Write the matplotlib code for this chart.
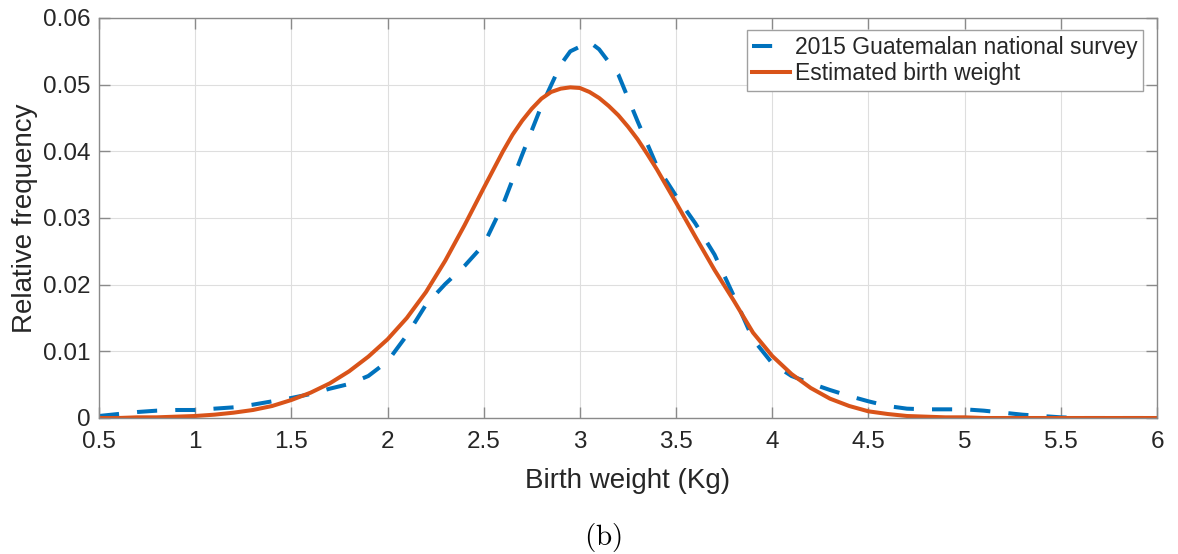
import matplotlib
matplotlib.use("Agg")
import matplotlib.pyplot as plt
import numpy as np

# Survey curve (dashed)
survey_x = [0.5, 0.6, 0.7, 0.8, 0.9, 1.0, 1.1, 1.2, 1.3, 1.4, 1.5, 1.6, 1.7, 1.8, 1.9,
            2.0, 2.1, 2.2, 2.3, 2.4, 2.5, 2.6, 2.7, 2.8, 2.9, 2.95, 3.05, 3.1, 3.2, 3.3,
            3.4, 3.5, 3.6, 3.7, 3.8, 3.9, 4.0, 4.1, 4.2, 4.3, 4.4, 4.5, 4.6, 4.7, 4.8,
            4.9, 5.0, 5.1, 5.2, 5.3, 5.4, 5.5, 5.6, 5.7, 5.8, 5.9, 6.0]
survey_y = [0.0003, 0.0006, 0.0009, 0.0011, 0.0012, 0.0012, 0.0014, 0.0016, 0.0020, 0.0025,
            0.0030, 0.0036, 0.0044, 0.0051, 0.0063, 0.0085, 0.0124, 0.0170, 0.0201, 0.0228,
            0.0260, 0.0320, 0.0395, 0.0468, 0.0530, 0.0550, 0.0564, 0.0553, 0.0515, 0.0445,
            0.0378, 0.0333, 0.0292, 0.0245, 0.0183, 0.0118, 0.0082, 0.0063, 0.0052, 0.0042,
            0.0033, 0.0025, 0.0018, 0.0014, 0.0013, 0.0013, 0.0013, 0.0011, 0.0008, 0.0005,
            0.0003, 0.0001, 0.0, 0.0, 0.0, 0.0, 0.0]

# Estimated curve (solid), finer steps around the peak
est_x = [0.5, 0.6, 0.7, 0.8, 0.9, 1.0, 1.1, 1.2, 1.3, 1.4, 1.5, 1.6, 1.7, 1.8, 1.9,
         2.0, 2.1, 2.2, 2.3, 2.4, 2.5, 2.6, 2.65, 2.7, 2.75, 2.8, 2.85, 2.9, 2.95, 3.0,
         3.05, 3.1, 3.15, 3.2, 3.25, 3.3, 3.35, 3.4,
         3.5, 3.6, 3.7, 3.8, 3.9, 4.0, 4.1, 4.2, 4.3, 4.4, 4.5, 4.6, 4.7, 4.8, 4.9,
         5.0, 5.1, 5.2, 5.3, 5.4, 5.5, 5.6, 5.7, 5.8, 5.9, 6.0]
est_y = [0.0000, 0.0000, 0.0001, 0.0001, 0.0002, 0.0003, 0.0005, 0.0008, 0.0012, 0.0018,
         0.0027, 0.0038, 0.0052, 0.0070, 0.0092, 0.0118, 0.0150, 0.0189, 0.0236, 0.0289,
         0.0345, 0.0400, 0.0425, 0.0446, 0.0464, 0.0479, 0.0489, 0.0494, 0.0496, 0.0495,
         0.0489, 0.0480, 0.0468, 0.0454, 0.0437, 0.0418, 0.0396, 0.0373,
         0.0323, 0.0272, 0.0222, 0.0176, 0.0128, 0.0093, 0.0066, 0.0045, 0.0029, 0.0018,
         0.0010, 0.0006, 0.0003, 0.0002, 0.0001, 0.0001, 0.0, 0.0, 0.0, 0.0,
         0.0, 0.0, 0.0, 0.0, 0.0, 0.0]

x_ticks = [0.5, 1, 1.5, 2, 2.5, 3, 3.5, 4, 4.5, 5, 5.5, 6]
x_ticklabels = ["0.5", "1", "1.5", "2", "2.5", "3", "3.5", "4", "4.5", "5", "5.5", "6"]
y_ticks = [0, 0.01, 0.02, 0.03, 0.04, 0.05, 0.06]
y_ticklabels = ["0", "0.01", "0.02", "0.03", "0.04", "0.05", "0.06"]

plt.rcParams['font.family'] = ['Liberation Sans', 'DejaVu Sans']
plt.rcParams['mathtext.fontset'] = 'cm'

txt_col = '#262626'
ax_col = '#8a8a8a'

fig = plt.figure(figsize=(11.78, 5.54), dpi=100)
ax = fig.add_axes([99 / 1178, 1 - 418 / 554, 1058 / 1178, 400 / 554])

ax.plot(survey_x, survey_y, color='#0072BD', linewidth=2.9, linestyle=(0, (5, 4.5)),
        label='2015 Guatemalan national survey')
ax.plot(est_x, est_y, color='#D95319', linewidth=2.9, label='Estimated birth weight')

ax.set_xlim(0.5, 6)
ax.set_ylim(0, 0.06)
ax.set_xticks(x_ticks)
ax.set_xticklabels(x_ticklabels)
ax.set_yticks(y_ticks)
ax.set_yticklabels(y_ticklabels)

ax.grid(True, color='#dedede', linewidth=0.8)
ax.set_axisbelow(True)
for s in ax.spines.values():
    s.set_color(ax_col)
    s.set_linewidth(1.0)
ax.tick_params(direction='in', length=8, width=1.0, color=ax_col, labelcolor=txt_col,
               labelsize=17.5, top=True, right=True)
ax.tick_params(axis='x', pad=9)
ax.tick_params(axis='y', pad=6)

ax.set_xlabel("Birth weight (Kg)", fontsize=20, color=txt_col, labelpad=11)
ax.set_ylabel("Relative frequency", fontsize=20, color=txt_col, labelpad=4)

leg = ax.legend(loc='upper right', bbox_to_anchor=(0.9868, 0.97), borderaxespad=0,
                fontsize=16.5, fancybox=False, framealpha=1, edgecolor='#a0a0a0',
                handlelength=1.65, handletextpad=0.2, labelspacing=0.15,
                borderpad=0.25)
leg.get_frame().set_linewidth(1.0)
for t in leg.get_texts():
    t.set_color(txt_col)

fig.text(603 / 1178, 1 - 538 / 554, r"$\mathrm{(b)}$", fontsize=21, ha='center', va='center',
         color='black')

fig.savefig("out.png", dpi=100)
plt.close(fig)
